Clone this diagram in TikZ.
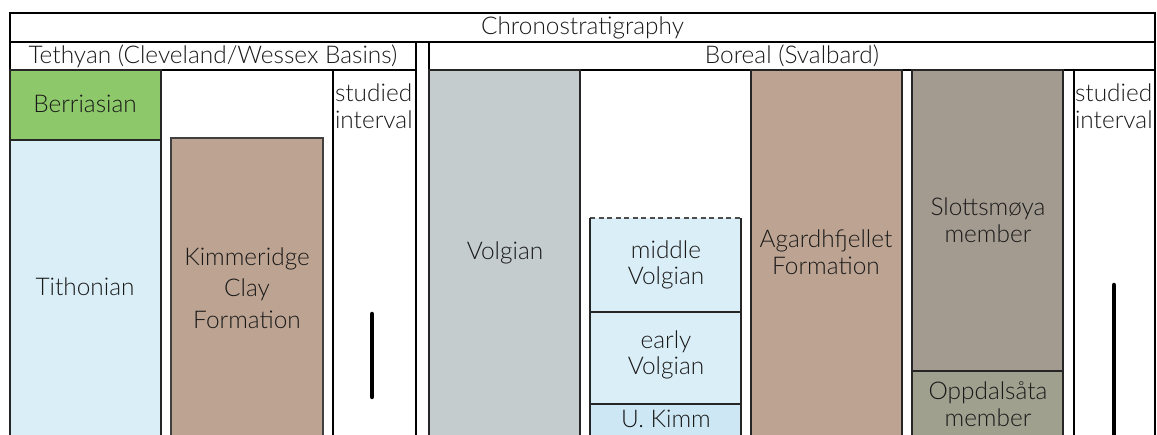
\documentclass[tikz,border=0pt]{standalone}
\usepackage{fontspec}
\setmainfont{Lato}[UprightFont=* Light]
\definecolor{berrgreen}{RGB}{141,201,106}
\definecolor{paleblue}{RGB}{218,238,247}
\definecolor{kimmblue}{RGB}{205,232,244}
\definecolor{claybrown}{RGB}{189,164,146}
\definecolor{volggray}{RGB}{196,204,206}
\definecolor{slotgray}{RGB}{163,154,144}
\definecolor{oppgreen}{RGB}{159,160,142}
\definecolor{inkgray}{RGB}{25,25,25}
\begin{document}
\begin{tikzpicture}[x=1pt,y=-1pt,
  every node/.style={inner sep=0pt, outer sep=0pt},
  frame/.style={draw=black, line width=1.4pt, anchor=north west, rectangle},
  unit/.style={draw=black!85, line width=1.4pt, anchor=north west, rectangle},
  lbl/.style={font=\fontsize{24.4}{26.5}\selectfont, text=inkgray, align=center},
  lbll/.style={font=\fontsize{24.4}{27}\selectfont, text=inkgray, align=left, anchor=west},
  bar/.style={line width=4.5pt, line cap=round, black}]
\useasboundingbox (0,0) rectangle (1157,435);
\clip (0,0) rectangle (1157,435);

% header rows
\node[frame, minimum width=1145pt, minimum height=29pt] (chrono) at (10,13) {};
\node[frame, minimum width=406pt, minimum height=28pt] (teth) at (10,42) {};
\node[frame, minimum width=726pt, minimum height=28pt] (bor) at (429,42) {};
\node[lbl] (chronot) at (chrono.center) {Chronostratigraphy};
\node[lbl] (tetht) at (teth.center) {Tethyan (Cleveland/Wessex Basins)};
\node[lbl] (bort) at (bor.center) {Boreal (Svalbard)};

% separator between the two realms and the studied-interval columns
\node[frame, minimum width=13pt, minimum height=400pt] (sep) at (416,42) {};
\node[frame, minimum width=83pt, minimum height=372pt] (tstud) at (333,70) {};
\node[frame, minimum width=81pt, minimum height=372pt] (bstud) at (1074,70) {};

% Tethyan column
\node[unit, fill=berrgreen, minimum width=151pt, minimum height=70pt] (berr) at (10,70) {};
\node[unit, fill=paleblue, minimum width=151pt, minimum height=300pt] (tith) at (10,140) {};
\node[unit, draw=black!75, fill=claybrown, minimum width=152pt, minimum height=302pt] (kcf) at (171,138) {};

\node[lbl] (berrt) at (85,104) {Berriasian};
\node[lbl] (titht) at (85,287) {Tithonian};
\node[lbl, font=\fontsize{24.4}{31.5}\selectfont] (kcft) at (247,288) {Kimmeridge\\Clay\\Formation};
\node[lbll] (tstudt) at (335,106) {studied\\interval};

\coordinate (tbartop) at (372,314);
\coordinate (tbarbot) at (372,397);
\draw[bar] (tbartop) -- (tbarbot);

% Boreal column
\node[unit, fill=volggray, minimum width=151pt, minimum height=372pt] (volg) at (429,70) {};
\node[anchor=north west, fill=paleblue, minimum width=151pt, minimum height=94pt] (mvolg) at (590,218) {};
\node[unit, fill=paleblue, minimum width=151pt, minimum height=92pt] (evolg) at (590,312) {};
\node[unit, fill=kimmblue, minimum width=151pt, minimum height=36pt] (ukimm) at (590,404) {};
\draw[black!70, line width=1.4pt, dash pattern=on 5pt off 3.5pt] (mvolg.north west) -- (mvolg.north east);
\draw[black!85, line width=1.4pt] (mvolg.north west) -- (mvolg.south west)
  (mvolg.north east) -- (mvolg.south east);
\node[unit, fill=claybrown, minimum width=151pt, minimum height=372pt] (agf) at (751,70) {};
\node[unit, fill=slotgray, minimum width=151pt, minimum height=301pt] (slot) at (912,70) {};
\node[unit, fill=oppgreen, minimum width=151pt, minimum height=69pt] (opp) at (912,371) {};

\node[lbl] (volgt) at (505,253) {Volgian};
\node[lbl] (mvolgt) at (666,265) {middle\\Volgian};
\node[lbl] (evolgt) at (666,355) {early\\Volgian};
\node[lbl] (ukimmt) at (666,419) {U. Kimm};
\node[lbl] (agft) at (826,252) {Agardhfjellet\\Formation};
\node[lbl] (slott) at (988,220) {Slottsmøya\\member};
\node[lbl] (oppt) at (988,404) {Oppdalsåta\\member};
\node[lbll] (bstudt) at (1075,106) {studied\\interval};

\coordinate (bbartop) at (1114,285);
\coordinate (bbarbot) at (1114,445);
\draw[bar] (bbartop) -- (bbarbot);
\end{tikzpicture}
\end{document}
